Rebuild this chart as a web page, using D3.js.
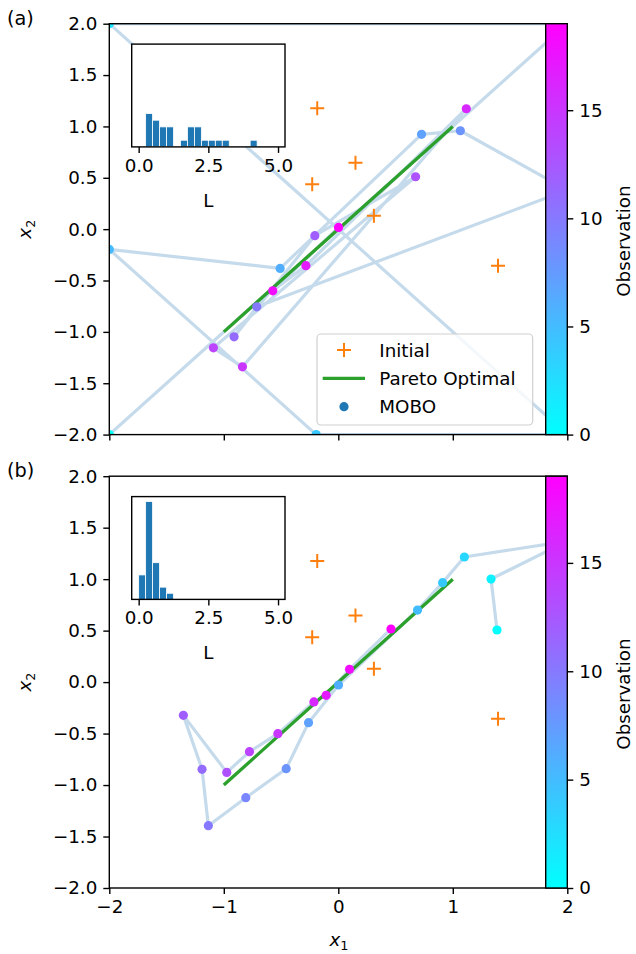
<!DOCTYPE html>
<html>
<head>
<meta charset="utf-8">
<script src="https://cdn.jsdelivr.net/npm/d3@7/dist/d3.min.js"></script>
<style>
  body { margin: 0; background: #fff; }
  svg { display: block; }
  text { font-family: "DejaVu Sans", sans-serif; fill: #000; }
</style>
</head>
<body>
<svg id="fig" width="636" height="954"></svg>
<script>
// ---- data ----
const initialX = [-0.184, 0.150, -0.228, 0.311, 1.395];
const initialY = [1.176, 0.647, 0.436, 0.130, -0.356];

const paretoX = [-1, 1];
const paretoY = [-1, 1];

// (a) observations in order 0..19
const moboAX = [-2, 2, -2, 2, -0.193, -2, -0.508, 0.727, 1.066, 2,
                -0.712, -0.910, -0.205, 0.675, -1.091, -0.837, 1.118, -0.283, -0.572, 0.002];
const moboAY = [-2, 2, 2, -2, -2, -0.197, -0.382, 0.923, 0.958, 0.38,
                -0.756, -1.048, -0.064, 0.510, -1.155, -1.340, 1.172, -0.356, -0.600, 0.017];

// (b) observations in order 0..19
const moboBX = [1.386, 1.334, 2, 1.101, 0.911, 0.692, 0.002, -0.260, -0.455, -0.808,
                -1.135, -1.190, -1.353, -0.974, -0.776, -0.528, -0.213, -0.106, 0.098, 0.460];
const moboBY = [0.506, 1.001, 1.37, 1.215, 0.966, 0.700, -0.028, -0.394, -0.841, -1.123,
                -1.395, -0.847, -0.323, -0.877, -0.676, -0.501, -0.193, -0.128, 0.124, 0.516];

// histograms of L, bins of width 0.25 over [0, 5]
const binEdges = d3.range(0, 5.001, 0.25);
const histACounts = [0, 5, 4, 3, 3, 0, 1, 3, 3, 1, 1, 1, 1, 0, 0, 0, 1, 0, 0, 0];
const histBCounts = [4, 16, 6, 2, 1, 0, 0, 0, 0, 0, 0, 0, 0, 0, 0, 0, 0, 0, 0, 0];
const histAMax = 15.4;
const histBMax = 16.8;

const axisTicks = [-2, -1, 0, 1, 2];
const yTicks = [-2, -1.5, -1, -0.5, 0, 0.5, 1, 1.5, 2];
const cbarTicks = [0, 5, 10, 15];
const insetTicks = [0, 2.5, 5];
const obsMax = 19;

// ---- layout ----
const FS = 18.3;
const left = 109.3, right = 567.3;
const panels = [
  { top: 23.7, bottom: 434.6, xs: moboAX, ys: moboAY, hist: histACounts, hmax: histAMax,
    label: "(a)", xLabels: false, legend: true },
  { top: 476.2, bottom: 888.0, xs: moboBX, ys: moboBY, hist: histBCounts, hmax: histBMax,
    label: "(b)", xLabels: true, legend: false }
];

const svg = d3.select("#fig");
const defs = svg.append("defs");
const minus = s => s.replace(/-/g, "\u2212");
const cool = t => d3.rgb(255 * t, 255 * (1 - t), 255);

const grad = defs.append("linearGradient").attr("id", "coolGrad")
  .attr("x1", 0).attr("y1", 1).attr("x2", 0).attr("y2", 0);
d3.range(0, 1.0001, 0.1).forEach(t =>
  grad.append("stop").attr("offset", t).attr("stop-color", cool(t)));

function styleAxis(g) {
  g.select(".domain").remove();
  g.selectAll(".tick line").attr("stroke", "#000").attr("stroke-width", 1.4);
  g.selectAll(".tick text").attr("font-size", FS).attr("fill", "#000")
    .attr("font-family", "DejaVu Sans, sans-serif");
}

panels.forEach((p, i) => {
  const x = d3.scaleLinear().domain([-2, 2]).range([left, right]);
  const y = d3.scaleLinear().domain([-2, 2]).range([p.bottom, p.top]);
  const color = d3.scaleLinear().domain([0, obsMax]).range([0, 1]);

  const clipId = "clip" + i;
  defs.append("clipPath").attr("id", clipId).append("rect")
    .attr("x", left).attr("y", p.top).attr("width", right - left).attr("height", p.bottom - p.top);

  const g = svg.append("g");
  const plot = g.append("g").attr("clip-path", `url(#${clipId})`);

  // path through observations in order
  const pts = p.xs.map((v, k) => [v, p.ys[k]]);
  plot.append("path")
    .attr("d", d3.line().x(d => x(d[0])).y(d => y(d[1]))(pts))
    .attr("fill", "none").attr("stroke", "#c5dbec").attr("stroke-width", 3.2)
    .attr("stroke-linejoin", "round");

  // initial samples
  const cs = 7;
  initialX.forEach((v, k) => {
    const cx = x(v), cy = y(initialY[k]);
    plot.append("path")
      .attr("d", `M${cx - cs},${cy}H${cx + cs}M${cx},${cy - cs}V${cy + cs}`)
      .attr("stroke", "#ff7f0e").attr("stroke-width", 2);
  });

  // Pareto front
  plot.append("line")
    .attr("x1", x(paretoX[0])).attr("y1", y(paretoY[0]))
    .attr("x2", x(paretoX[1])).attr("y2", y(paretoY[1]))
    .attr("stroke", "#2ca02c").attr("stroke-width", 3.3);

  // MOBO observations
  plot.selectAll("circle.obs").data(pts).enter().append("circle")
    .attr("class", "obs")
    .attr("cx", d => x(d[0])).attr("cy", d => y(d[1])).attr("r", 4.6)
    .attr("fill", (d, k) => cool(color(k)));

  // axes
  const xa = g.append("g").attr("transform", `translate(0,${p.bottom})`)
    .call(d3.axisBottom(x).tickValues(axisTicks).tickSize(6).tickPadding(6)
      .tickFormat(p.xLabels ? (d => minus(d3.format("d")(d))) : ""));
  styleAxis(xa);
  const ya = g.append("g").attr("transform", `translate(${left},0)`)
    .call(d3.axisLeft(y).tickValues(yTicks).tickSize(6).tickPadding(6)
      .tickFormat(d => minus(d3.format(".1f")(d))));
  styleAxis(ya);

  g.append("rect").attr("x", left).attr("y", p.top)
    .attr("width", right - left).attr("height", p.bottom - p.top)
    .attr("fill", "none").attr("stroke", "#000").attr("stroke-width", 1.4);

  // y label
  const yl = g.append("text")
    .attr("transform", `translate(31,${(p.top + p.bottom) / 2}) rotate(-90)`)
    .attr("text-anchor", "middle").attr("font-size", FS);
  yl.append("tspan").attr("font-style", "italic").text("x");
  yl.append("tspan").attr("font-size", FS * 0.7).attr("dy", 4).text("2");

  // panel label
  g.append("text").attr("x", 7).attr("y", p.top + 1).attr("font-size", FS + 1).text(p.label);

  // inset histogram
  const ix = d3.scaleLinear().domain([-0.25, 5.25]).range([131.7, 285]);
  const iTop = p.top + 20.4, iBot = p.top + 123.2;
  const iy = d3.scaleLinear().domain([0, p.hmax]).range([iBot, iTop]);
  const ig = g.append("g");
  ig.append("rect").attr("x", 131.7).attr("y", iTop).attr("width", 285 - 131.7)
    .attr("height", iBot - iTop).attr("fill", "#fff");
  p.hist.forEach((c, k) => {
    if (c <= 0) return;
    ig.append("rect")
      .attr("x", ix(binEdges[k])).attr("y", iy(c))
      .attr("width", ix(binEdges[k + 1]) - ix(binEdges[k])).attr("height", iBot - iy(c))
      .attr("fill", "#1f77b4").attr("stroke", "#fff").attr("stroke-width", 0.8);
  });
  const ia = ig.append("g").attr("transform", `translate(0,${iBot})`)
    .call(d3.axisBottom(ix).tickValues(insetTicks).tickSize(6).tickPadding(6)
      .tickFormat(d3.format(".1f")));
  styleAxis(ia);
  ig.append("rect").attr("x", 131.7).attr("y", iTop).attr("width", 285 - 131.7)
    .attr("height", iBot - iTop).attr("fill", "none").attr("stroke", "#000").attr("stroke-width", 1.4);
  ig.append("text").attr("x", ix(2.5)).attr("y", iBot + 60).attr("text-anchor", "middle")
    .attr("font-size", FS).text("L");

  // legend
  if (p.legend) {
    const lg = g.append("g");
    lg.append("rect").attr("x", 317).attr("y", 334).attr("width", 215.7).attr("height", 91)
      .attr("rx", 4).attr("fill", "#fff").attr("fill-opacity", 0.8)
      .attr("stroke", "#d0d0d0").attr("stroke-width", 1.2);
    const rows = [350, 378.3, 406.7];
    lg.append("path")
      .attr("d", `M${344 - cs},${rows[0]}H${344 + cs}M344,${rows[0] - cs}V${rows[0] + cs}`)
      .attr("stroke", "#ff7f0e").attr("stroke-width", 2);
    lg.append("line").attr("x1", 322.7).attr("x2", 365).attr("y1", rows[1]).attr("y2", rows[1])
      .attr("stroke", "#2ca02c").attr("stroke-width", 3.3);
    lg.append("circle").attr("cx", 344).attr("cy", rows[2]).attr("r", 4.6).attr("fill", "#1f77b4");
    ["Initial", "Pareto Optimal", "MOBO"].forEach((t, k) =>
      lg.append("text").attr("x", 379.3).attr("y", rows[k]).attr("dy", "0.36em")
        .attr("font-size", FS).text(t));
  }

  // colorbar overlaid on the right part of the axes
  const cx0 = 545.7, cx1 = 567.3;
  const cy = d3.scaleLinear().domain([0, obsMax]).range([p.bottom, p.top]);
  const cb = g.append("g");
  cb.append("rect").attr("x", cx0).attr("y", p.top).attr("width", cx1 - cx0)
    .attr("height", p.bottom - p.top).attr("fill", "url(#coolGrad)");
  cb.append("rect").attr("x", cx0).attr("y", p.top).attr("width", cx1 - cx0)
    .attr("height", p.bottom - p.top).attr("fill", "none").attr("stroke", "#000").attr("stroke-width", 1.4);
  const ca = cb.append("g").attr("transform", `translate(${cx1},0)`)
    .call(d3.axisRight(cy).tickValues(cbarTicks).tickSize(6).tickPadding(6).tickFormat(d3.format("d")));
  styleAxis(ca);
  cb.append("text")
    .attr("transform", `translate(626,${(p.top + p.bottom) / 2 + 12}) rotate(-90)`)
    .attr("text-anchor", "middle").attr("dy", "0.2em").attr("font-size", FS).text("Observation");
});

// x label under the lower panel
const xl = svg.append("text").attr("x", 339).attr("y", 946).attr("text-anchor", "middle")
  .attr("font-size", FS);
xl.append("tspan").attr("font-style", "italic").text("x");
xl.append("tspan").attr("font-size", FS * 0.7).attr("dy", 4).text("1");
</script>
</body>
</html>
